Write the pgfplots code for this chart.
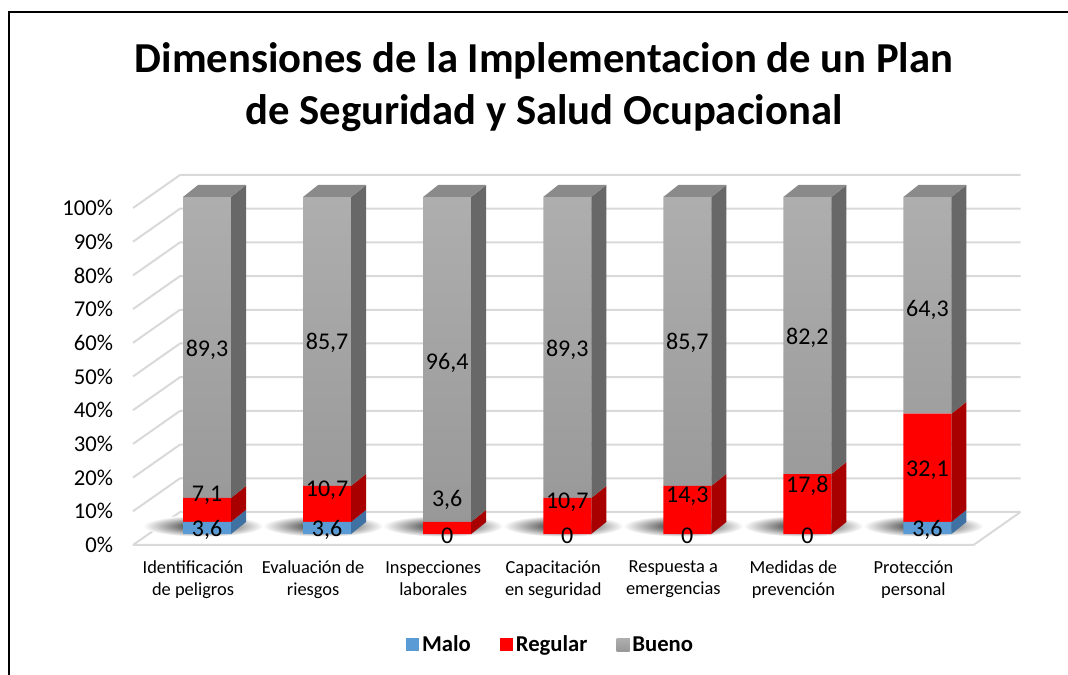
\documentclass[border=0pt]{standalone}
\usepackage{pgfplots}
\pgfplotsset{compat=1.18}
\usepackage{pgfplotstable}
\usepackage{fontspec}
\setmainfont{Carlito}

\definecolor{malo}{HTML}{5B9BD5}
\definecolor{maloside}{HTML}{3F72A3}
\definecolor{regular}{HTML}{FF0000}
\definecolor{regularside}{HTML}{A80000}
\definecolor{buenohi}{HTML}{AEAEAE}
\definecolor{buenolo}{HTML}{989898}
\definecolor{buenoleg}{HTML}{A5A5A5}
\definecolor{buenoside}{HTML}{686868}
\definecolor{buenotop}{HTML}{8A8A8A}
\definecolor{gridc}{HTML}{D9D9D9}

% values and label heights (label heights in % of the axis)
\pgfplotstableread{
x malo regular bueno lm lr lb
0 3.6 7.1 89.3 1.2 11.6 54.6
1 3.6 10.7 85.7 1.2 13.1 56.7
2 0 3.6 96.4 -0.6 10.1 50.7
3 0 10.7 89.3 -0.6 9.5 54.6
4 0 14.3 85.7 -0.6 11.3 56.7
5 0 17.8 82.2 -0.6 14.2 58.2
6 3.6 32.1 64.3 1.2 19.0 66.5
}\datatable

\newcommand\sideface[4]{%
  \fill[#4] ([xshift=18pt]axis cs:#1,#2) -- ([xshift=29.25pt,yshift=9pt]axis cs:#1,#2)
    -- ([xshift=29.25pt,yshift=9pt]axis cs:#1,#3) -- ([xshift=18pt]axis cs:#1,#3) -- cycle;}
\newcommand\topface[2]{%
  \fill[buenotop] ([xshift=-18pt]axis cs:#1,#2) -- ([xshift=-6.75pt,yshift=9pt]axis cs:#1,#2)
    -- ([xshift=29.25pt,yshift=9pt]axis cs:#1,#2) -- ([xshift=18pt]axis cs:#1,#2) -- cycle;}
\newcommand\shadow[1]{%
  \shade[inner color=black!90, outer color=white]
    ([xshift=-3pt,yshift=6pt]axis cs:#1,0) ellipse [x radius=45pt, y radius=8pt];}
\newcommand\lbl[3]{%
  \node[font=\fontsize{18}{21}\selectfont, inner sep=0pt] at (axis cs:#1,#2) {\pgfmathprintnumber{#3}};}

\pgfkeys{/pgf/number format/.cd, use comma, fixed, precision=1, 1000 sep={}, assume math mode=true}

\pgfplotsset{geom/.style={
  at={(110.25pt,105.75pt)}, anchor=south west,
  scale only axis, width=630.375pt, height=252.75pt,
  xmin=-0.5, xmax=6.5, ymin=0, ymax=100, clip=false}}

\begin{document}
\begin{tikzpicture}
\path[use as bounding box] (0,0) rectangle (801pt,506.25pt);
% frame
\draw[line width=1.6pt, black] (6.75pt,0) -- (6.75pt,497.25pt) -- (801pt,497.25pt);
% title
\node[font=\bfseries\fontsize{32}{38}\selectfont, anchor=base] at (408pt,451.5pt) {Dimensiones de la Implementacion de un Plan};
\node[font=\bfseries\fontsize{32}{38}\selectfont, anchor=base] at (408pt,412.5pt) {de Seguridad y Salud Ocupacional};

% background: walls, grid, floor, shadows
\begin{axis}[geom, hide axis]
\pgfplotsinvokeforeach{0,10,...,100}{
  \draw[gridc, line width=1.5pt] ([xshift=-10.5pt,yshift=-8.25pt]axis cs:-0.5,#1)
     -- ([xshift=24.75pt,yshift=16.5pt]axis cs:-0.5,#1) -- ([xshift=24.75pt,yshift=16.5pt]axis cs:6.5,#1);
}
\draw[gridc, line width=1.5pt] ([xshift=-10.5pt,yshift=-8.25pt]axis cs:-0.5,0)
   -- ([xshift=-10.5pt,yshift=-8.25pt]axis cs:6.5,0) -- ([xshift=24.75pt,yshift=16.5pt]axis cs:6.5,0);
\pgfplotsinvokeforeach{0,...,6}{\shadow{#1}}
\end{axis}

% bars
\begin{axis}[
  geom,
  ybar stacked, bar width=36pt,
  axis line style={draw=none},
  major tick length=0pt,
  ytick={0,10,...,100},
  yticklabel={\pgfmathprintnumber{\tick}\%},
  yticklabel style={font=\fontsize{17}{20}\selectfont, anchor=east, xshift=-22pt, yshift=-8.25pt},
  xtick={0,...,6},
  xticklabels={{Identificación\\de peligros},{Evaluación de\\riesgos},{Inspecciones\\laborales},{Capacitación\\en seguridad},{Respuesta a\\emergencias},{Medidas de\\prevención},{Protección\\personal}},
  xticklabel style={font=\fontsize{13.8}{16.8}\selectfont, align=center, anchor=north, xshift=-10.5pt, yshift=-16.5pt},
  legend style={at={(0.4807,-0.329)}, anchor=center, legend columns=-1, draw=none,
    font=\bfseries\fontsize{17}{20}\selectfont,
    /tikz/every even column/.append style={column sep=20pt},
    /tikz/every odd column/.append style={column sep=0pt},
    nodes={inner sep=2pt}},
  sq/.style={legend image code/.code={\fill[##1] (0pt,-4.9pt) rectangle (9.75pt,4.9pt);}},
]
\addplot[fill=malo, draw=none, sq] table[x=x,y=malo]\datatable;
\addplot[fill=regular, draw=none, sq] table[x=x,y=regular]\datatable;
\addplot[top color=buenohi, bottom color=buenolo, draw=none,
  legend image code/.code={\fill[buenoleg] (0pt,-4.9pt) rectangle (9.75pt,4.9pt);}] table[x=x,y=bueno]\datatable;
\legend{Malo, Regular, Bueno}
\end{axis}

% 3-D faces and data labels
\begin{axis}[geom, hide axis]
\pgfplotsinvokeforeach{0,...,6}{
  \pgfplotstablegetelem{#1}{malo}\of\datatable \let\va\pgfplotsretval
  \pgfplotstablegetelem{#1}{regular}\of\datatable \let\vr\pgfplotsretval
  \pgfplotstablegetelem{#1}{bueno}\of\datatable \let\vg\pgfplotsretval
  \pgfplotstablegetelem{#1}{lm}\of\datatable \let\posa\pgfplotsretval
  \pgfplotstablegetelem{#1}{lr}\of\datatable \let\posr\pgfplotsretval
  \pgfplotstablegetelem{#1}{lb}\of\datatable \let\posg\pgfplotsretval
  \pgfmathsetmacro\vb{\va+\vr}
  \pgfmathsetmacro\vt{\va+\vr+\vg}
  \edef\temp{\noexpand\sideface{#1}{0}{\va}{maloside}%
    \noexpand\sideface{#1}{\va}{\vb}{regularside}%
    \noexpand\sideface{#1}{\vb}{\vt}{buenoside}%
    \noexpand\topface{#1}{\vt}%
    \noexpand\lbl{#1}{\posa}{\va}\noexpand\lbl{#1}{\posr}{\vr}\noexpand\lbl{#1}{\posg}{\vg}}%
  \temp
}
\end{axis}
\end{tikzpicture}
\end{document}
